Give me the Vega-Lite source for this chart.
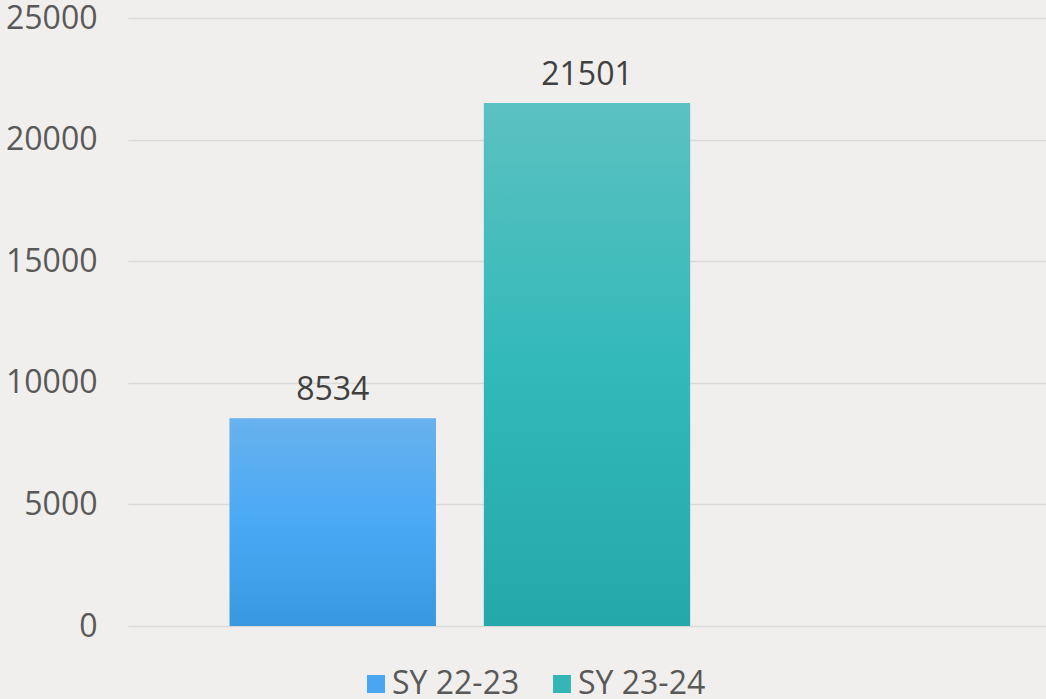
{
  "$schema": "https://vega.github.io/schema/vega-lite/v6.json",
  "width": 918,
  "height": 608,
  "autosize": {"type": "none"},
  "padding": {"left": 128, "top": 18, "right": 0, "bottom": 73},
  "background": "#f0efed",
  "config": {
    "view": {"stroke": null},
    "font": "Open Sans"
  },
  "data": {
    "values": [
      {"series": "SY 22-23", "value": 8534},
      {"series": "SY 23-24", "value": 21501}
    ]
  },
  "encoding": {
    "x": {
      "field": "series",
      "type": "nominal",
      "scale": {"domain": ["SY 22-23", "SY 23-24", "none"], "paddingInner": 0.189, "paddingOuter": 0.4},
      "axis": null
    },
    "y": {
      "field": "value",
      "type": "quantitative",
      "scale": {"domain": [0, 25000]},
      "axis": {
        "values": [0, 5000, 10000, 15000, 20000, 25000],
        "format": "d",
        "title": null,
        "domain": false,
        "ticks": false,
        "labelPadding": 31,
        "labelFontSize": 32,
        "labelColor": "#595959",
        "gridColor": "#d9d9d9",
        "gridWidth": 1.5
      }
    }
  },
  "layer": [
    {
      "mark": {"type": "bar"},
      "encoding": {
        "color": {
          "field": "series",
          "type": "nominal",
          "scale": {"domain": ["SY 22-23", "SY 23-24"], "range": ["#4aa6f0", "#33b6b5"]},
          "legend": {
            "title": null,
            "orient": "none",
            "direction": "horizontal",
            "legendX": 232,
            "legendY": 650,
            "symbolType": "square",
            "symbolSize": 324,
            "symbolStrokeWidth": 0,
            "symbolOpacity": 1,
            "labelFontSize": 32,
            "labelColor": "#595959",
            "labelOffset": 0,
            "columnPadding": 26
          }
        }
      }
    },
    {
      "transform": [{"filter": "datum.series === 'SY 22-23'"}],
      "mark": {"type": "bar", "color": {"gradient": "linear", "x1": 0, "y1": 0, "x2": 0, "y2": 1, "stops": [{"offset": 0, "color": "#68b2ee"}, {"offset": 0.5, "color": "#4aa9f5"}, {"offset": 1, "color": "#3899e0"}]}},
      "encoding": {}
    },
    {
      "transform": [{"filter": "datum.series === 'SY 23-24'"}],
      "mark": {"type": "bar", "color": {"gradient": "linear", "x1": 0, "y1": 0, "x2": 0, "y2": 1, "stops": [{"offset": 0, "color": "#5cc1c1"}, {"offset": 0.5, "color": "#33b9b9"}, {"offset": 1, "color": "#25a8a8"}]}},
      "encoding": {}
    },
    {
      "mark": {"type": "text", "baseline": "alphabetic", "dy": -18, "fontSize": 32, "color": "#404040"},
      "encoding": {
        "text": {"field": "value", "type": "quantitative", "format": "d"}
      }
    }
  ]
}
